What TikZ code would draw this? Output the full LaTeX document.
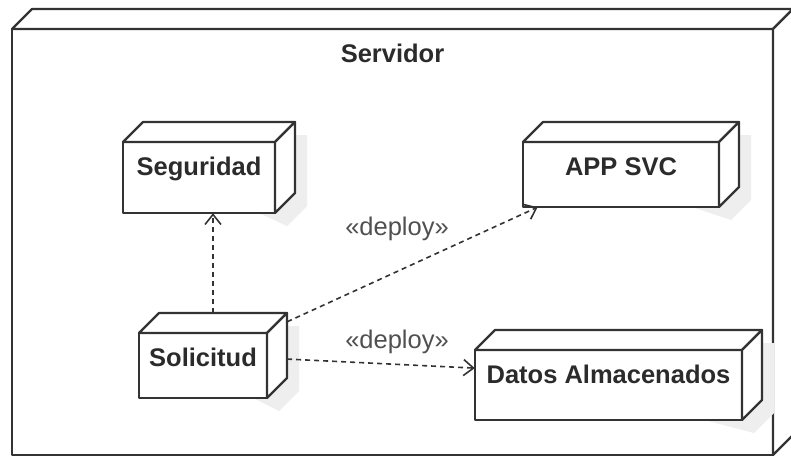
\documentclass[tikz,border=0pt]{standalone}
\usepackage{fontspec}
\setmainfont{Liberation Sans}
\usetikzlibrary{arrows.meta,fit}

\definecolor{edgecol}{HTML}{333333}
\definecolor{textcol}{HTML}{2B2B2B}
\definecolor{stereocol}{HTML}{505050}
\definecolor{shadecol}{HTML}{EEEEEE}

\tikzset{
  boxline/.style={draw=edgecol, line width=2.2pt, line join=round, fill=white},
  boxshade/.style={fill=shadecol},
  boxlabel/.style={anchor=base, text=textcol, font=\fontsize{25.5}{30}\selectfont\bfseries, inner sep=0pt},
  stereo/.style={anchor=base, text=stereocol, font=\fontsize{25.5}{30}\selectfont, inner sep=0pt},
  dep/.style={draw=edgecol, line width=1.6pt, dash pattern=on 5pt off 4pt,
              -{Straight Barb[length=10pt,width=16pt,line width=1.6pt]}},
  hull/.style={inner sep=0pt, draw=none}
}

% a 3D deployment node: name, front x1, y1, x2, y2, label; depth 20
\newcommand{\depthbox}[6]{%
  \draw[boxline] (#2,#3) rectangle (#4,#5);
  \draw[boxline] (#2,#3) -- ({#2+20},{#3-20}) -- ({#4+20},{#3-20}) -- (#4,#3) -- cycle;
  \draw[boxline] (#4,#3) -- ({#4+20},{#3-20}) -- ({#4+20},{#5-20}) -- (#4,#5) -- cycle;
  \node[boxlabel] at ({(#2+#4)/2},{#3+33}) {#6};
  \node[hull, fit={(#2,{#3-20}) ({#4+20},#5)}] (#1) {};
}
% the same node with its drop shadow
\newcommand{\shadedbox}[6]{%
  \fill[boxshade] ({#2+12},{#3+13}) -- ({#2+32},{#3-7}) -- ({#4+32},{#3-7})
     -- ({#4+32},{#5-7}) -- ({#4+12},{#5+13}) -- cycle;
  \depthbox{#1}{#2}{#3}{#4}{#5}{#6}%
}

\begin{document}
\begin{tikzpicture}[x=1pt,y=-1pt]
\useasboundingbox (0,0) rectangle (791,458);

% enclosing server node
\depthbox{serv}{12}{29}{773}{455}{Servidor}

% inner nodes
\shadedbox{seg}{123}{142}{275}{213}{Seguridad}
\shadedbox{app}{523}{142}{719}{207}{APP SVC}
\shadedbox{sol}{139}{333}{267}{398}{Solicitud}
\shadedbox{dat}{475}{350}{742}{420}{Datos Almacenados}

% dependencies
\draw[dep] (sol.north) -- (sol.north |- seg.south);
\draw[dep] (sol) -- (app);
\draw[dep] (sol) -- (dat);

% stereotype labels
\node[stereo] (lab1) at (397,235) {«deploy»};
\node[stereo] (lab2) at (397,348) {«deploy»};
\end{tikzpicture}
\end{document}
